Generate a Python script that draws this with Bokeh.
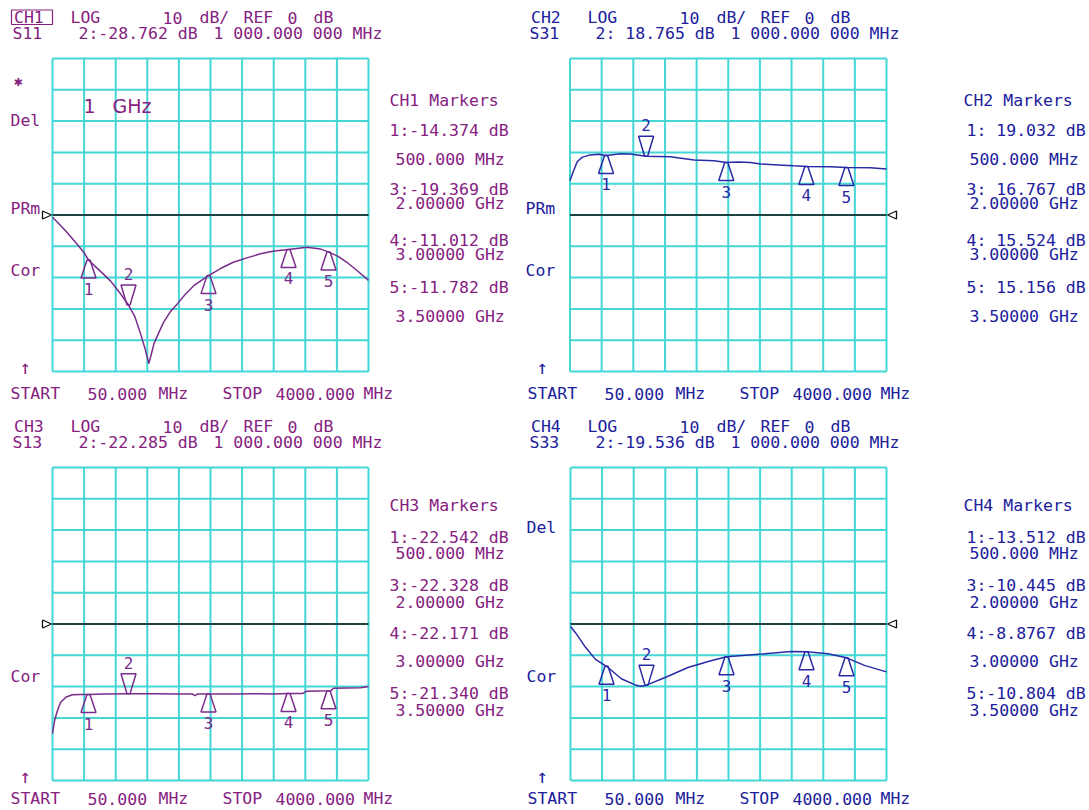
from bokeh.plotting import figure
from bokeh.models import Range1d, ColumnDataSource
from bokeh.layouts import column, row
from bokeh.embed import file_html
from bokeh.resources import INLINE
from bokeh.core.properties import value

# ------------------------------------------------------------------ data
START_MHZ = 50.0
STOP_MHZ = 4000.0
REF_DB = 0.0
DB_PER_DIV = 10.0
N_DIV = 10

marker_freq_mhz = [500, 1000, 2000, 3000, 3500]
marker_labels = ["1", "2", "3", "4", "5"]
active_marker = "2"

# CH1  S11
s11_freq = [50, 130, 230, 340, 440, 500, 600, 700, 780, 880, 1000, 1080, 1150, 1210,
            1254, 1290, 1320, 1380, 1440, 1520, 1610, 1710, 1820, 2000, 2150, 2310,
            2480, 2650, 2820, 3000, 3230, 3400, 3500, 3620, 3730, 3860, 4000]
s11_db = [-0.7, -2.8, -5.5, -8.8, -11.9, -14.374, -16.8, -19.2, -21.2, -24.5, -28.762,
          -32.5, -37.9, -43.0, -47.5, -44.0, -41.0, -37.5, -34.2, -31.0, -28.4, -25.3,
          -22.5, -19.369, -17.1, -15.1, -13.7, -12.4, -11.5, -11.012, -10.3, -10.9,
          -11.782, -13.2, -15.1, -17.8, -20.9]
s11_marker_db = [-14.374, -28.762, -19.369, -11.012, -11.782]

# CH2  S31
s31_freq = [50, 90, 140, 200, 300, 410, 500, 680, 800, 1000, 1300, 1600, 1850, 2000,
            2150, 2300, 2430, 2650, 2840, 3000, 3300, 3500, 3800, 4000]
s31_db = [11.0, 13.8, 17.0, 18.4, 19.2, 19.4, 19.032, 19.6, 19.5, 18.765, 18.6, 17.6,
          17.3, 16.767, 16.9, 16.8, 16.3, 16.0, 15.7, 15.524, 15.4, 15.156, 15.1, 14.7]
s31_marker_db = [19.032, 18.765, 16.767, 15.524, 15.156]

# CH3  S13
s13_freq = [50, 65, 80, 110, 150, 220, 300, 400, 500, 700, 1000, 1300, 1600, 1800, 1830,
            1860, 2000, 2300, 2600, 2800, 3000, 3180, 3220, 3500, 3530, 3560, 3900, 4000]
s13_db = [-35.0, -32.5, -30.5, -27.8, -25.1, -23.3, -22.6, -22.5, -22.542, -22.4, -22.285,
          -22.3, -22.35, -22.4, -22.9, -22.4, -22.328, -22.4, -22.3, -22.35, -22.171, -22.2,
          -21.5, -21.34, -21.3, -20.5, -20.4, -20.0]
s13_marker_db = [-22.542, -22.285, -22.328, -22.171, -21.340]

# CH4  S33
s33_freq = [50, 110, 225, 362, 500, 686, 871, 930, 1000, 1240, 1518, 1794, 2000, 2440,
            2809, 3000, 3270, 3500, 3732, 4000]
s33_db = [-0.8, -2.7, -7.0, -11.3, -13.512, -17.5, -19.6, -19.9, -19.536, -17.0, -13.9,
          -11.8, -10.445, -9.6, -8.8, -8.8767, -9.5, -10.804, -13.3, -15.3]
s33_marker_db = [-13.512, -19.536, -10.445, -8.8767, -10.804]

# texts
header_tokens = ["LOG", "10", "dB/", "REF", "0", "dB"]
center_span = "1 000.000 000 MHz"
start_stop_tokens = ["START", "50.000", "MHz", "STOP", "4000.000", "MHz"]
ch1_lines = ["CH1 Markers", "1:-14.374 dB", "500.000 MHz", "3:-19.369 dB", "2.00000 GHz",
             "4:-11.012 dB", "3.00000 GHz", "5:-11.782 dB", "3.50000 GHz"]
ch2_lines = ["CH2 Markers", "1: 19.032 dB", "500.000 MHz", "3: 16.767 dB", "2.00000 GHz",
             "4: 15.524 dB", "3.00000 GHz", "5: 15.156 dB", "3.50000 GHz"]
ch3_lines = ["CH3 Markers", "1:-22.542 dB", "500.000 MHz", "3:-22.328 dB", "2.00000 GHz",
             "4:-22.171 dB", "3.00000 GHz", "5:-21.340 dB", "3.50000 GHz"]
ch4_lines = ["CH4 Markers", "1:-13.512 dB", "500.000 MHz", "3:-10.445 dB", "2.00000 GHz",
             "4:-8.8767 dB", "3.00000 GHz", "5:-10.804 dB", "3.50000 GHz"]

# ------------------------------------------------------------------ layout / style
MONO = "DejaVu Sans Mono"
SANS = "DejaVu Sans"
FS = "16.5px"
PURPLE = "#86217f"
PURPLE_TRACE = "#7a2c8c"
BLUE = "#20209c"
BLUE_TRACE = "#2a2aa6"
GRID = "#45d6d6"

TOP_LINES_Y = [100, 130, 159, 189, 203, 240, 254, 287, 316]
BOT_LINES_Y = [505, 537, 553, 585, 602, 633, 661, 693, 710]
LINE_INDENT = [0, 0, 6, 0, 6, 0, 6, 0, 6]
HEADER_X = [70, 162, 199, 243, 287, 313]
SS_X = [10, 87, 158, 222, 275, 363]

panels = [
    dict(ch="CH1", sp="S11", act="2:-28.762 dB", f=s11_freq, d=s11_db, mk=s11_marker_db,
         lines=ch1_lines, ly=TOP_LINES_Y, lx=389, col=PURPLE, tcol=PURPLE_TRACE,
         origin=(0, 0), size=(520, 410), grid=(52, 368, 58, 371), dx=0, ss_y=393,
         refside="left", boxed=True,
         side=[("Del", 10, 120), ("PRm", 10, 208), ("Cor", 10, 270)], star=True, ghz=True),
    dict(ch="CH2", sp="S31", act="2: 18.765 dB", f=s31_freq, d=s31_db, mk=s31_marker_db,
         lines=ch2_lines, ly=TOP_LINES_Y, lx=963, col=BLUE, tcol=BLUE_TRACE,
         origin=(520, 0), size=(568, 410), grid=(569.5, 886, 58, 371), dx=517, ss_y=393,
         refside="right", boxed=False,
         side=[("PRm", 525, 208), ("Cor", 525, 270)], star=False, ghz=False),
    dict(ch="CH3", sp="S13", act="2:-22.285 dB", f=s13_freq, d=s13_db, mk=s13_marker_db,
         lines=ch3_lines, ly=BOT_LINES_Y, lx=389, col=PURPLE, tcol=PURPLE_TRACE,
         origin=(0, 410), size=(520, 398), grid=(52, 368, 467, 780), dx=0, ss_y=798,
         refside="left", boxed=False,
         side=[("Cor", 10, 676)], star=False, ghz=False),
    dict(ch="CH4", sp="S33", act="2:-19.536 dB", f=s33_freq, d=s33_db, mk=s33_marker_db,
         lines=ch4_lines, ly=BOT_LINES_Y, lx=963, col=BLUE, tcol=BLUE_TRACE,
         origin=(520, 410), size=(568, 398), grid=(570, 886, 467, 780), dx=517, ss_y=798,
         refside="right", boxed=False,
         side=[("Del", 526, 527), ("Cor", 526, 676)], star=False, ghz=False),
]


def make_panel(c):
    ox, oy = c["origin"]
    W, H = c["size"]
    gl, gr, gt, gb = c["grid"]
    mpp = (STOP_MHZ - START_MHZ) / (gr - gl)
    dpp = DB_PER_DIV * N_DIV / (gb - gt)
    yc = (gt + gb) / 2.0

    def X(xr):
        return START_MHZ + (xr - gl) * mpp

    def Y(yr):
        return REF_DB + (yc - yr) * dpp

    p = figure(width=W, height=H, x_range=Range1d(X(ox), X(ox + W)),
               y_range=Range1d(Y(oy + H), Y(oy)), output_backend="svg",
               toolbar_location=None, x_axis_location=None, y_axis_location=None,
               min_border=0, title=None)
    p.outline_line_color = None
    p.grid.visible = False
    p.background_fill_color = "white"
    p.border_fill_color = "white"

    col = c["col"]

    def txt(x, y, s, color=col, size=FS, font=MONO, align="left", style="normal"):
        p.text(x=[X(x)], y=[Y(y)], text=[s], text_color=color, text_font=value(font),
               text_font_size=size, text_align=align, text_baseline="middle",
               text_font_style=style)

    # graticule
    half = N_DIV // 2
    vx = [START_MHZ + k * (STOP_MHZ - START_MHZ) / N_DIV for k in range(N_DIV + 1)]
    p.segment(x0=vx, x1=vx, y0=[REF_DB - half * DB_PER_DIV] * len(vx),
              y1=[REF_DB + half * DB_PER_DIV] * len(vx), line_color=GRID, line_width=2)
    hy = [REF_DB + j * DB_PER_DIV for j in range(-half, half + 1)]
    p.segment(x0=[START_MHZ] * len(hy), x1=[STOP_MHZ] * len(hy), y0=hy, y1=hy,
              line_color=GRID, line_width=2)

    # reference line + reference position pointer
    p.segment(x0=[START_MHZ], x1=[STOP_MHZ], y0=[REF_DB], y1=[REF_DB],
              line_color="#111111", line_width=1.6)
    if c["refside"] == "left":
        rx = [START_MHZ - 1 * mpp, START_MHZ - 10 * mpp, START_MHZ - 10 * mpp]
    else:
        rx = [STOP_MHZ + 1 * mpp, STOP_MHZ + 10 * mpp, STOP_MHZ + 10 * mpp]
    ry = [REF_DB, REF_DB + 4 * dpp, REF_DB - 4 * dpp]
    p.patch(rx, ry, fill_color="white", line_color="#111111", line_width=1.3)

    # trace
    p.line(c["f"], c["d"], line_color=c["tcol"], line_width=1.5)

    # markers
    xs, ys, offs = [], [], []
    for f, d, lab in zip(marker_freq_mhz, c["mk"], marker_labels):
        xs.append([f - 1.5 * mpp, f + 1.5 * mpp, f + 7.5 * mpp, f - 7.5 * mpp])
        if lab == active_marker:
            ys.append([d, d, d + 20 * dpp, d + 20 * dpp])
            offs.append(-31)
        else:
            ys.append([d, d, d - 18 * dpp, d - 18 * dpp])
            offs.append(29)
    p.patches(xs, ys, fill_color=None, line_color=c["tcol"], line_width=1.5)
    src = ColumnDataSource(dict(x=marker_freq_mhz, y=c["mk"], t=marker_labels, o=offs))
    p.text(x="x", y="y", text="t", y_offset="o", source=src, text_color=c["tcol"],
           text_font=value(MONO), text_font_size="16px", text_align="center",
           text_baseline="middle")

    # header
    dx = c["dx"]
    h1 = gt - 41
    h2 = gt - 25
    txt(13.5 + dx, h1, c["ch"])
    for s, x in zip(header_tokens, HEADER_X):
        txt(x + dx, h1, s)
    txt(12 + dx, h2, c["sp"])
    txt(78 + dx, h2, c["act"])
    txt(213 + dx, h2, center_span)
    if c["boxed"]:
        p.quad(left=[X(11 + dx)], right=[X(52 + dx)], top=[Y(h1 - 7.5)], bottom=[Y(h1 + 7)],
               fill_color=None, line_color=col, line_width=1.2)

    # start / stop
    for s, x in zip(start_stop_tokens, SS_X):
        txt(x + dx, c["ss_y"], s)

    # side annotations
    for s, x, y in c["side"]:
        txt(x, y, s)
    txt(19 + dx, gb - 5, "\u2191", size="19px")
    if c["star"]:
        txt(13, 82, "\u2731", size="11px", font=SANS)
    if c["ghz"]:
        txt(83, 105, "1", size="19px", font=SANS)
        txt(112, 105, "GHz", size="19px", font=SANS)

    # marker table
    for s, y, ind in zip(c["lines"], c["ly"], LINE_INDENT):
        extra = 3 if (c["lx"] > 900 and ind == 0 and not s.startswith("CH")) else 0
        txt(c["lx"] + ind + extra, y, s)
    return p


figs = [make_panel(c) for c in panels]
layout = column(row(figs[0], figs[1]), row(figs[2], figs[3]))
open("out.html", "w").write(file_html(layout, INLINE))
